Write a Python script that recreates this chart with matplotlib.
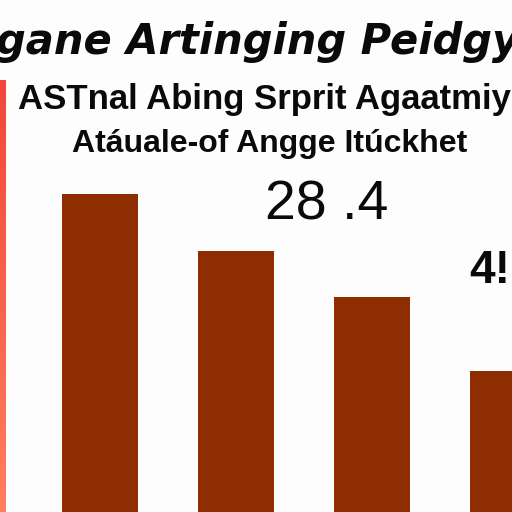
import numpy as np
import matplotlib
matplotlib.use("Agg")
import matplotlib.pyplot as plt
from matplotlib.colors import LinearSegmentedColormap

# Data
categories = ["A", "B", "C", "D"]
values = [62.1, 51.0, 42.0, 27.5]
title_lines = ["gane Artinging Peidgy", "ASTnal Abing Srprit Agaatmiy", "Atáuale-of Angge Itúckhet"]
labels = ["28 .4", "4!"]

W = H = 512
fig = plt.figure(figsize=(5.12, 5.12), dpi=100, facecolor="#fdfdfd")
ax = fig.add_axes([0, 0, 1, 1])
ax.set_facecolor("#fdfdfd")
x = np.arange(len(categories))
ax.bar(x, values, width=0.56, color="#8e2e00")
ax.set_xlim(-0.735, 3.03)
ax.set_ylim(0, 100)
ax.axis("off")

# gradient red line on the left
gax = fig.add_axes([0, 0, 5.5 / W, (H - 80) / H])
grad = np.linspace(0, 1, 256).reshape(-1, 1)
cmap = LinearSegmentedColormap.from_list("g", ["#ff7e60", "#f2473a"])
gax.imshow(grad, aspect="auto", cmap=cmap, origin="lower")
gax.axis("off")

def px(xp, yp):
    return xp / W, 1 - yp / H

fig.text(*px(-4, 54), title_lines[0], fontsize=30, fontweight="bold", fontstyle="oblique",
         family="DejaVu Sans", ha="left", va="baseline", color="#0a0a0a")
fig.text(*px(18, 109), title_lines[1], fontsize=25, fontweight="bold",
         family="Liberation Sans", ha="left", va="baseline", color="#0a0a0a")
fig.text(*px(72, 152), title_lines[2], fontsize=23, fontweight="bold",
         family="Liberation Sans", ha="left", va="baseline", color="#0a0a0a")
fig.text(*px(265, 220), labels[0], fontsize=40,
         family="Liberation Sans", ha="left", va="baseline", color="#0a0a0a")
fig.text(*px(469, 283), labels[1], fontsize=33, fontweight="bold",
         family="Liberation Sans", ha="left", va="baseline", color="#0a0a0a")

fig.savefig("out.png", dpi=100, facecolor=fig.get_facecolor())
